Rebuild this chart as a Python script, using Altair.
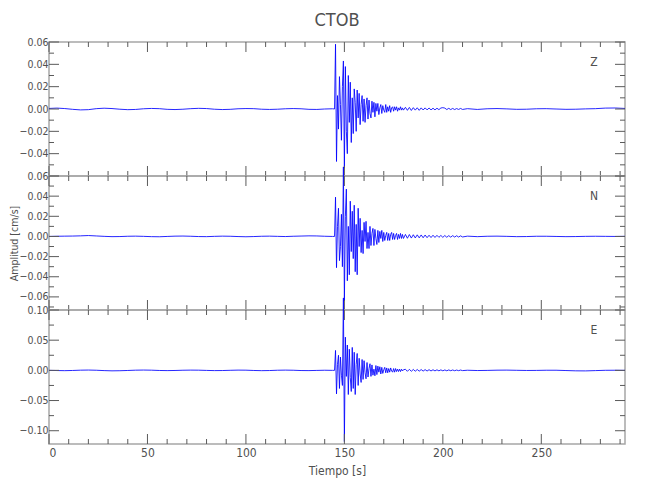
import altair as alt
import pandas as pd

# ---------------- data (cm/s) ----------------
# sampling segments: (start time [s], step [s]) for pre-event, burst, coda, post
SEGMENTS = [(0.0, 4.0), (145.0, 0.5), (181.0, 1.0), (212.5, 5.0)]

z_pre = [0.0005, 0.0008, 0.0004, -0.0003, -0.0008, -0.0006, 0.0003, 0.0007, 0.0004, -0.0002,
         -0.0006, -0.0004, 0.0002, 0.0005, 0.0003, -0.0003, -0.0005, -0.0002, 0.0003, 0.0006,
         0.0004, -0.0002, -0.0005, -0.0003, 0.0002, 0.0004, 0.0003, -0.0002, -0.0004, -0.0002,
         0.0002, 0.0004, 0.0002, -0.0003, -0.0004, 0.0, 0.0002]
z_burst = [0.0, 0.058, -0.047, 0.012, -0.018, 0.029, 0.004, -0.028, 0.02, 0.043,
           -0.053, 0.038, -0.02, -0.04, 0.03, -0.012, 0.024, -0.03, 0.01, -0.022,
           0.018, 0.006, -0.02, 0.017, -0.008, 0.014, -0.014, 0.004, 0.012, -0.011,
           0.009, -0.012, 0.003, 0.01, -0.009, 0.008, -0.004, -0.008, 0.007, -0.003,
           0.006, -0.007, 0.005, -0.002, 0.005, -0.005, 0.001, 0.004, -0.004, 0.003,
           -0.001, -0.003, 0.004, -0.003, 0.002, -0.002, 0.003, -0.003, 0.001, 0.002,
           -0.002, 0.002, -0.001, 0.002, -0.002, 0.001, -0.001, 0.002, -0.001, 0.001,
           -0.001]
z_coda = [0.0015, -0.0012, 0.0014, -0.0013, 0.0012, -0.001, 0.0011, -0.0012, 0.001, -0.0009,
          0.001, -0.0008, 0.0009, -0.0008, 0.0007, -0.0008, 0.0007, -0.0006, 0.0009, 0.0012,
          0.0008, -0.0005, 0.0006, -0.0005, 0.0005, -0.0005, 0.0004, -0.0004, 0.0005, -0.0004]
z_post = [0.0003, -0.0004, 0.0002, 0.0004, 0.0001, -0.0003, -0.0002, 0.0002, 0.0003, 0.0,
          -0.0003, -0.0002, 0.0001, 0.0003, 0.0008, 0.0009, 0.0005]

n_pre = [0.0, 0.0002, 0.0003, 0.0004, 0.0006, 0.0009, 0.0005, 0.0001, -0.0002, -0.0001,
         0.0002, 0.0003, 0.0001, -0.0002, -0.0003, 0.0, 0.0003, 0.0004, 0.0002, -0.0001,
         -0.0002, 0.0001, 0.0003, 0.0002, -0.0001, -0.0003, -0.0001, 0.0002, 0.0003, 0.0001,
         -0.0001, 0.0002, 0.0004, 0.0006, 0.0005, 0.0002, 0.0]
n_burst = [0.0, 0.039, -0.031, 0.01, 0.028, -0.024, -0.01, 0.022, -0.03, 0.069,
           -0.064, 0.02, 0.047, -0.044, 0.01, -0.038, 0.035, -0.015, 0.025, -0.022,
           0.031, -0.035, 0.012, -0.038, 0.028, -0.01, 0.018, -0.016, 0.006, -0.017,
           0.014, -0.005, 0.015, -0.012, 0.004, -0.012, 0.01, -0.009, 0.003, 0.008,
           -0.009, 0.007, -0.002, -0.008, 0.006, -0.006, 0.005, -0.002, 0.006, -0.005,
           0.004, -0.004, 0.001, 0.004, -0.004, 0.003, -0.004, 0.002, 0.004, -0.003,
           0.003, -0.003, 0.001, 0.003, -0.003, 0.002, -0.002, 0.003, -0.002, 0.002,
           -0.002]
n_coda = [0.002, -0.0018, 0.0019, -0.0016, 0.0017, -0.0015, 0.0016, -0.0014, 0.0015, -0.0013,
          0.0014, -0.0012, 0.0012, -0.0011, 0.0012, -0.001, 0.0011, -0.0009, 0.001, -0.0009,
          0.0009, -0.0008, 0.0008, -0.0007, 0.0008, -0.0006, 0.0007, -0.0006, 0.0006, -0.0005]
n_post = [0.0003, -0.0002, 0.0002, 0.0003, 0.0001, -0.0002, -0.0001, 0.0002, 0.0002, 0.0,
          -0.0002, -0.0001, 0.0001, 0.0002, 0.0001, 0.0, 0.0001]

e_pre = [0.0, -0.0003, -0.0005, -0.0002, 0.0003, 0.0005, 0.0002, -0.0004, -0.0008, -0.0006,
         -0.0002, 0.0003, 0.0005, 0.0003, -0.0002, -0.0004, -0.0002, 0.0002, 0.0004, 0.0003,
         -0.0001, -0.0004, -0.0003, 0.0001, 0.0004, 0.0003, -0.0002, -0.0005, -0.0003, 0.0002,
         0.0004, 0.0002, -0.0003, -0.0004, -0.0001, 0.0002, 0.0]
e_burst = [0.0, 0.033, -0.039, 0.01, 0.025, -0.03, 0.022, -0.008, -0.025, 0.12,
           -0.118, 0.055, -0.01, 0.042, -0.04, 0.035, -0.012, -0.035, 0.038, -0.03,
           0.03, -0.04, 0.01, 0.028, -0.025, 0.02, -0.006, -0.02, 0.018, -0.015,
           0.016, -0.004, -0.014, 0.013, -0.011, 0.003, 0.011, -0.01, 0.009, -0.008,
           0.002, -0.009, 0.008, -0.007, 0.007, -0.003, 0.006, -0.006, 0.005, -0.005,
           0.001, 0.005, -0.004, 0.004, -0.004, 0.003, -0.003, 0.004, -0.001, -0.003,
           0.003, -0.003, 0.003, -0.002, 0.002, -0.002, 0.002, -0.002, 0.002, -0.001,
           0.001]
e_coda = [0.0018, -0.0016, 0.0017, -0.0015, 0.0015, -0.0014, 0.0014, -0.0013, 0.0013, -0.0012,
          0.0012, -0.0011, 0.0011, -0.001, 0.001, -0.0009, 0.0009, -0.0008, 0.0008, -0.0008,
          0.0007, -0.0007, 0.0007, -0.0006, 0.0006, -0.0006, 0.0005, -0.0005, 0.0005, -0.0004]
e_post = [0.0002, -0.0003, -0.0001, 0.0003, 0.0004, 0.0001, -0.0002, -0.0001, 0.0002, 0.0002,
          -0.0003, -0.0008, -0.0009, -0.0004, 0.0001, 0.0002, 0.0]

X_LABELS = [0, 50, 100, 150, 200, 250]
X_MINOR = [10, 20, 30, 40, 60, 70, 80, 90, 110, 120, 130, 140, 160, 170, 180, 190,
           210, 220, 230, 240, 260, 270, 280, 290]
X_DOMAIN = [0, 292.5]

PANELS = [
    dict(name="Z", pre=z_pre, burst=z_burst, coda=z_coda, post=z_post,
         domain=[-0.06, 0.06], labels=[-0.04, -0.02, 0.0, 0.02, 0.04, 0.06],
         major=[-0.06, -0.04, -0.02, 0.0, 0.02, 0.04, 0.06],
         minor=[-0.05, -0.03, -0.01, 0.01, 0.03, 0.05]),
    dict(name="N", pre=n_pre, burst=n_burst, coda=n_coda, post=n_post,
         domain=[-0.073, 0.06], labels=[-0.06, -0.04, -0.02, 0.0, 0.02, 0.04, 0.06],
         major=[-0.06, -0.04, -0.02, 0.0, 0.02, 0.04, 0.06],
         minor=[-0.07, -0.05, -0.03, -0.01, 0.01, 0.03, 0.05]),
    dict(name="E", pre=e_pre, burst=e_burst, coda=e_coda, post=e_post,
         domain=[-0.122, 0.10], labels=[-0.10, -0.05, 0.0, 0.05, 0.10],
         major=[-0.10, -0.05, 0.0, 0.05, 0.10],
         minor=[-0.075, -0.025, 0.025, 0.075]),
]

# ---------------- styling ----------------
W, H = 576, 134
FONT = "DejaVu Sans Condensed, Liberation Sans Narrow, sans-serif"
TXT = "#505050"
TICK = "#5a5a5a"
FRAME = "#a6a6a6"
MAJ, MIN = 10, 5


def trace_frame(p):
    rows = []
    for (start, step), vals in zip(SEGMENTS, [p["pre"], p["burst"], p["coda"], p["post"]]):
        for i, v in enumerate(vals):
            rows.append({"t": start + step * i, "v": v})
    return pd.DataFrame(rows)


def make_panel(p, idx):
    xs = alt.Scale(domain=X_DOMAIN, nice=False, zero=False)
    ys = alt.Scale(domain=p["domain"], nice=False, zero=False)
    last = idx == len(PANELS) - 1

    def xenc():
        if last:
            xaxis = alt.Axis(values=X_LABELS, ticks=False, domain=False, grid=False,
                             labelFontSize=12, labelPadding=3, titleFontSize=12,
                             titlePadding=7, format="d")
            return alt.X("t:Q", scale=xs, axis=xaxis, title="Tiempo [s]")
        return alt.X("t:Q", scale=xs, axis=None)

    def yenc():
        yaxis = alt.Axis(values=p["labels"], format=".2f", ticks=False, domain=False,
                         grid=False, labelFontSize=10.5, labelPadding=1,
                         titleFontSize=10.5, titlePadding=0)
        if idx == 1:
            return alt.Y("v:Q", scale=ys, axis=yaxis, title="Amplitud [cm/s]")
        return alt.Y("v:Q", scale=ys, axis=yaxis, title=None)

    line = alt.Chart(trace_frame(p)).mark_line(
        color="#0000ff", strokeWidth=0.85, clip=False
    ).encode(x=xenc(), y=yenc(), order="t:Q")

    layers = [line]

    def xticks(vals, length):
        df = pd.DataFrame({"t": vals})
        top = alt.Chart(df).mark_rule(color=TICK, strokeWidth=1).encode(
            x=xenc(), y=alt.value(0), y2=alt.value(length))
        bot = alt.Chart(df).mark_rule(color=TICK, strokeWidth=1).encode(
            x=xenc(), y=alt.value(H), y2=alt.value(H - length))
        return [top, bot]

    def yticks(vals, length):
        df = pd.DataFrame({"v": vals})
        left = alt.Chart(df).mark_rule(color=TICK, strokeWidth=1).encode(
            y=yenc(), x=alt.value(0), x2=alt.value(length))
        right = alt.Chart(df).mark_rule(color=TICK, strokeWidth=1).encode(
            y=yenc(), x=alt.value(W), x2=alt.value(W - length))
        return [left, right]

    layers += xticks(X_LABELS, MAJ) + xticks(X_MINOR, MIN)
    layers += yticks(p["major"], MAJ) + yticks(p["minor"], MIN)

    letter = alt.Chart(pd.DataFrame({"s": [p["name"]]})).mark_text(
        font=FONT, fontSize=12, color=TXT, align="center", baseline="middle"
    ).encode(text="s:N", x=alt.value(W - 31), y=alt.value(20))
    layers.append(letter)

    if idx == 0:
        title = alt.Chart(pd.DataFrame({"s": ["CTOB"]})).mark_text(
            font=FONT, fontSize=18, color=TXT, align="center", baseline="middle"
        ).encode(text="s:N", x=alt.value(W / 2), y=alt.value(-21))
        layers.append(title)

    return alt.layer(*layers).properties(width=W, height=H)


chart = alt.vconcat(*[make_panel(p, i) for i, p in enumerate(PANELS)],
                    spacing=0, bounds="flush").properties(
    padding={"left": 0, "top": 3, "right": 5, "bottom": 5},
    background="white",
).configure_view(
    stroke=FRAME, strokeWidth=1.5
).configure_axis(
    labelFont=FONT, titleFont=FONT, labelColor=TXT, titleColor=TXT,
    titleFontWeight="normal"
)

chart.save("out.html", embed_options={"renderer": "svg", "actions": False})
